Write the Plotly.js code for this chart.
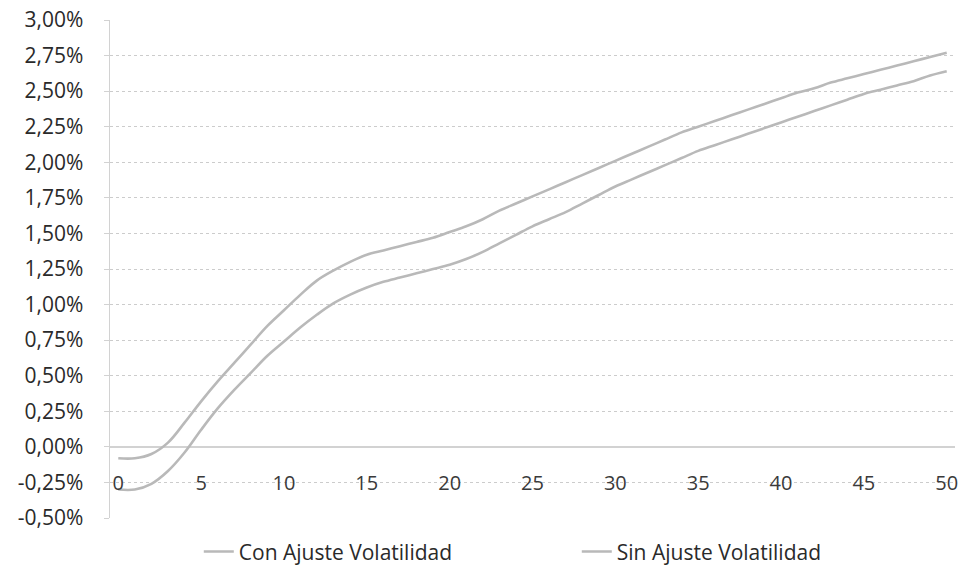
<!DOCTYPE html>
<html>
<head>
<meta charset="utf-8">
<script src="https://cdn.plot.ly/plotly-3.0.1.min.js"></script>
<style>html,body{margin:0;padding:0;background:#fff;}#chart{width:965px;height:576px;}</style>
</head>
<body>
<div id="chart"></div>
<script>
var years = [];
for (var i = 0; i <= 50; i++) years.push(i);

var seriesNames = ["Con Ajuste Volatilidad", "Sin Ajuste Volatilidad"];

// values in percent
var conAjuste = [-0.08,-0.08,-0.05,0.03,0.17,0.32,0.46,0.59,0.72,0.85,
  0.96,1.07,1.17,1.24,1.30,1.35,1.38,1.41,1.44,1.47,
  1.51,1.55,1.60,1.66,1.71,1.76,1.81,1.86,1.91,1.96,
  2.01,2.06,2.11,2.16,2.21,2.25,2.29,2.33,2.37,2.41,
  2.45,2.49,2.52,2.56,2.59,2.62,2.65,2.68,2.71,2.74,2.77];

var sinAjuste = [-0.30,-0.30,-0.26,-0.17,-0.04,0.12,0.27,0.40,0.52,0.64,
  0.74,0.84,0.93,1.01,1.07,1.12,1.16,1.19,1.22,1.25,
  1.28,1.32,1.37,1.43,1.49,1.55,1.60,1.65,1.71,1.77,
  1.83,1.88,1.93,1.98,2.03,2.08,2.12,2.16,2.20,2.24,
  2.28,2.32,2.36,2.40,2.44,2.48,2.51,2.54,2.57,2.61,2.64];

var yTickVals = [-0.5,-0.25,0,0.25,0.5,0.75,1,1.25,1.5,1.75,2,2.25,2.5,2.75,3];
var yTickText = ["-0,50%","-0,25%","0,00%","0,25%","0,50%","0,75%","1,00%","1,25%","1,50%","1,75%","2,00%","2,25%","2,50%","2,75%","3,00%"];
var xTickVals = [0,5,10,15,20,25,30,35,40,45,50];

function toFrac(a){ return a.map(function(v){ return v/100; }); }

var lineColor = "#b9b9b9";
var traces = [
  {x: years, y: toFrac(conAjuste), name: seriesNames[0], type: "scatter", mode: "lines",
   line: {color: lineColor, width: 2.6, shape: "spline", smoothing: 1}},
  {x: years, y: toFrac(sinAjuste), name: seriesNames[1], type: "scatter", mode: "lines",
   line: {color: lineColor, width: 2.6, shape: "spline", smoothing: 1}}
];

var layout = {
  width: 965, height: 576,
  margin: {l: 110, r: 10, t: 20, b: 58},
  paper_bgcolor: "#ffffff", plot_bgcolor: "#ffffff",
  separators: ",.",
  font: {family: "'Open Sans', 'Noto Sans', sans-serif", color: "#333333", size: 20},
  showlegend: true,
  legend: {orientation: "h", xref: "container", yref: "container",
           x: 0.206, xanchor: "left", y: 0.042, yanchor: "middle",
           entrywidth: 333, entrywidthmode: "pixels",
           font: {size: 21, color: "#2a2a2a"}, tracegroupgap: 0},
  xaxis: {
    range: [-0.5, 50.5], tickvals: xTickVals, ticktext: xTickVals.map(String),
    anchor: "free", position: 0.5/3.5,
    showgrid: false, zeroline: false, showline: false, ticks: "",
    ticklabelstandoff: 22,
    tickfont: {size: 20, color: "#3a3a3a"}
  },
  yaxis: {
    range: [-0.005, 0.030], tickvals: toFrac(yTickVals), ticktext: yTickText,
    showgrid: true, gridcolor: "#cccccc", griddash: "dot", gridwidth: 1,
    zeroline: true, zerolinecolor: "#d2d2d2", zerolinewidth: 1.5,
    showline: true, linecolor: "#d2d2d2", linewidth: 1.5,
    ticks: "outside", ticklen: 5, tickcolor: "#d2d2d2",
    ticklabelstandoff: 16,
    tickfont: {size: 21, color: "#2a2a2a"}
  }
};

Plotly.newPlot("chart", traces, layout, {displayModeBar: false, staticPlot: true});
</script>
</body>
</html>
